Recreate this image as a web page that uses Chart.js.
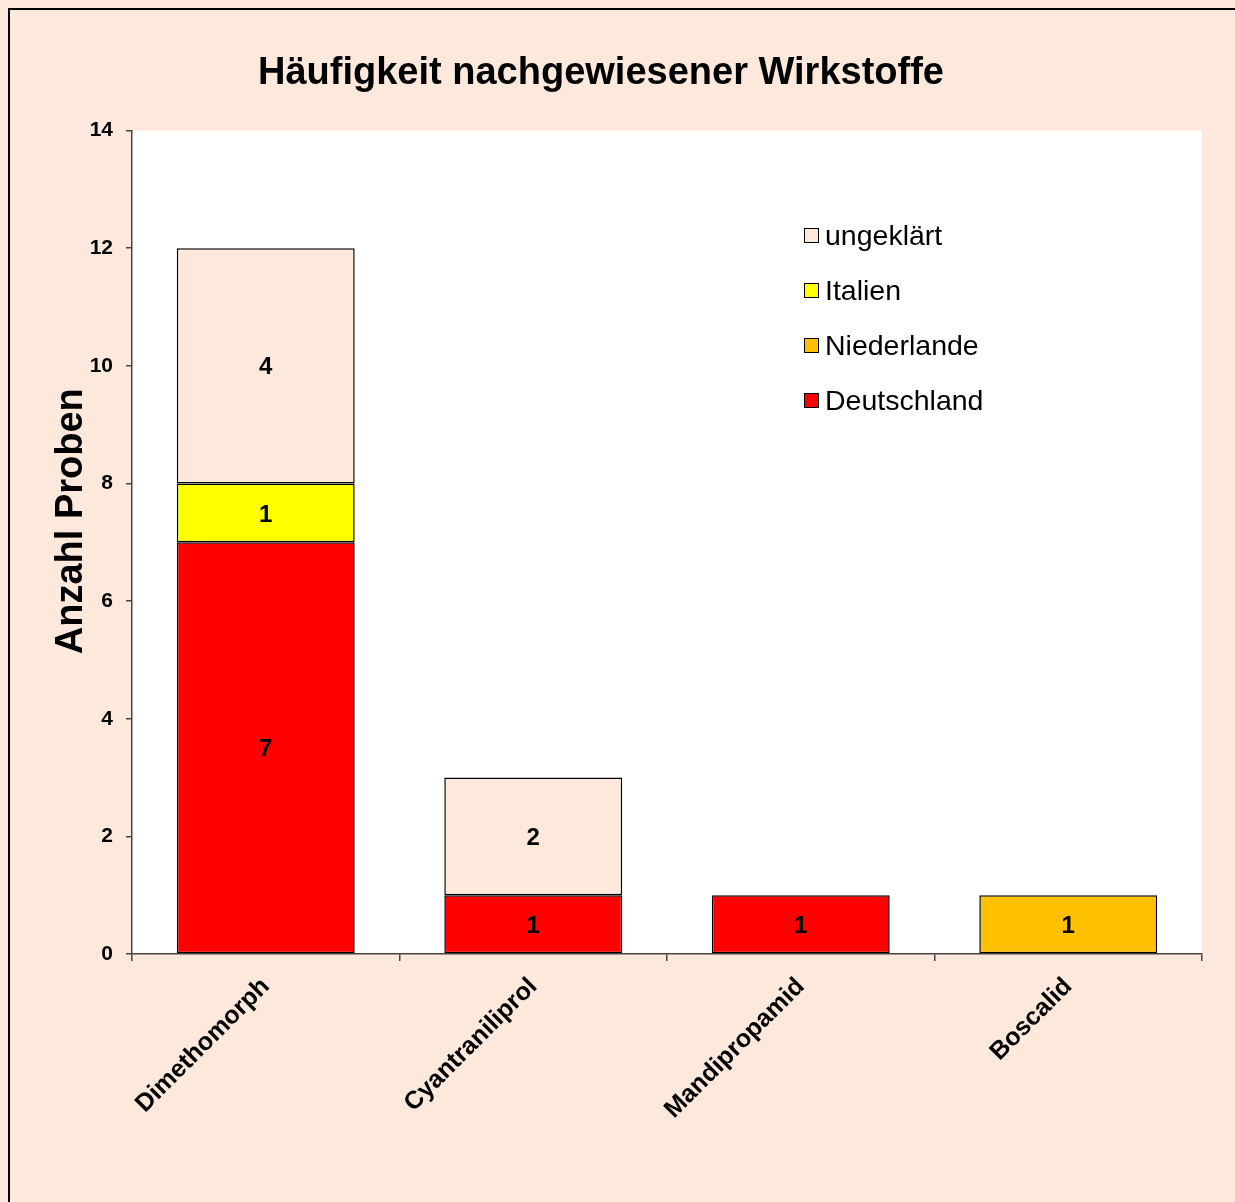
<!DOCTYPE html>
<html lang="de">

<head>
    <meta charset="UTF-8">
    <title>Häufigkeit nachgewiesener Wirkstoffe</title>
    <script src="https://cdn.jsdelivr.net/npm/chart.js"></script>
    <style>
        html, body {
            margin: 0;
            padding: 0;
            background: #fce9dc;
        }
        .rahmen {
            position: absolute;
            left: 8px;
            top: 8px;
            width: 1240px;
            height: 1210px;
            border-left: 2px solid #000;
            border-top: 2px solid #000;
        }
        #grafik {
            position: absolute;
            left: 0;
            top: 0;
        }
        #legende {
            position: absolute;
            left: 804px;
            top: 217px;
            font-family: "Liberation Sans", Arial, sans-serif;
            font-size: 28.5px;
            color: #000;
        }
        .eintrag {
            height: 55px;
            line-height: 36px;
            display: flex;
            align-items: flex-start;
        }
        .kasten {
            width: 13px;
            height: 13px;
            border: 1.5px solid #000;
            margin-top: 11px;
            margin-right: 6px;
        }
    </style>
</head>

<body>
    <div class="rahmen"></div>
    <canvas id="grafik" width="1204" height="1202"></canvas>
    <div id="legende"></div>
</body>

</html>
<script>
    // Daten
    const wirkstoffe = ['Dimethomorph', 'Cyantraniliprol', 'Mandipropamid', 'Boscalid'];
    const deutschland = [7, 1, 1, null];
    const niederlande = [null, null, null, 1];
    const italien = [1, null, null, null];
    const ungeklaert = [4, 2, null, null];
    const yTicks = [0, 2, 4, 6, 8, 10, 12, 14];

    const schrift = '"Liberation Sans", Arial, sans-serif';

    // weisser Plotbereich
    const plotHintergrund = {
        id: 'plotHintergrund',
        beforeDraw(chart) {
            const a = chart.chartArea;
            const ctx = chart.ctx;
            ctx.save();
            ctx.fillStyle = '#ffffff';
            ctx.fillRect(a.left, a.top, a.right - a.left, a.bottom - a.top);
            ctx.restore();
        }
    };

    // Zahlen in den Balken
    const werte = {
        id: 'werte',
        afterDatasetsDraw(chart) {
            const ctx = chart.ctx;
            ctx.save();
            ctx.font = 'bold 24px ' + schrift;
            ctx.fillStyle = '#000';
            ctx.textAlign = 'center';
            ctx.textBaseline = 'middle';
            chart.data.datasets.forEach((ds, i) => {
                const meta = chart.getDatasetMeta(i);
                meta.data.forEach((bar, j) => {
                    const v = ds.data[j];
                    if (v == null) return;
                    ctx.fillText(v, bar.x, (bar.y + bar.base) / 2 + 2);
                });
            });
            ctx.restore();
        }
    };

    const data = {
        labels: wirkstoffe,
        datasets: [
            { label: 'Deutschland', data: deutschland, backgroundColor: '#ff0000' },
            { label: 'Niederlande', data: niederlande, backgroundColor: '#ffc000' },
            { label: 'Italien', data: italien, backgroundColor: '#ffff00' },
            { label: 'ungeklärt', data: ungeklaert, backgroundColor: '#fce9dc' }
        ].map(ds => Object.assign(ds, {
            borderColor: '#000',
            borderWidth: 1.5,
            borderSkipped: false,
            barPercentage: 0.665,
            categoryPercentage: 1
        }))
    };

    const config = {
        type: 'bar',
        data: data,
        options: {
            responsive: false,
            animation: false,
            layout: { padding: { left: 0, right: 2, top: 0, bottom: 0 } },
            plugins: {
                legend: { display: false },
                tooltip: { enabled: false },
                title: {
                    display: true,
                    text: 'Häufigkeit nachgewiesener Wirkstoffe',
                    color: '#000',
                    font: { family: schrift, size: 38, weight: 'bold', lineHeight: 1.2 },
                    padding: { top: 51, bottom: 34 }
                }
            },
            scales: {
                x: {
                    stacked: true,
                    grid: {
                        offset: true,
                        drawOnChartArea: false,
                        tickLength: 7,
                        color: '#444',
                        lineWidth: 1.5
                    },
                    border: { color: '#444', width: 1.5 },
                    ticks: {
                        color: '#000',
                        maxRotation: 45,
                        minRotation: 45,
                        padding: 11,
                        font: { family: schrift, size: 25, weight: 'bold' }
                    },
                    afterFit(scale) { scale.height = 248; }
                },
                y: {
                    stacked: true,
                    min: 0,
                    max: 14,
                    afterBuildTicks(scale) { scale.ticks = yTicks.map(v => ({ value: v })); },
                    grid: {
                        drawOnChartArea: false,
                        tickLength: 6,
                        color: '#444',
                        lineWidth: 1.5
                    },
                    border: { color: '#444', width: 1.5 },
                    ticks: {
                        color: '#000',
                        padding: 13,
                        font: { family: schrift, size: 21, weight: 'bold' }
                    },
                    title: {
                        display: true,
                        // führende Leerzeichen schieben den Titel etwas nach oben, wie im Original
                        text: '    Anzahl Proben',
                        color: '#000',
                        font: { family: schrift, size: 38, weight: 'bold', lineHeight: 1.2 },
                        padding: { top: 49, bottom: 0 }
                    },
                    afterFit(scale) { scale.width = 132; }
                }
            }
        },
        plugins: [plotHintergrund, werte]
    };

    const grafik = new Chart(document.getElementById('grafik'), config);

    // Legende, Reihenfolge wie im Original (oben zuerst)
    const legende = document.getElementById('legende');
    data.datasets.slice().reverse().forEach(ds => {
        const zeile = document.createElement('div');
        zeile.className = 'eintrag';
        zeile.innerHTML = '<div class="kasten" style="background:' + ds.backgroundColor + '"></div><span>' + ds.label + '</span>';
        legende.appendChild(zeile);
    });
</script>
